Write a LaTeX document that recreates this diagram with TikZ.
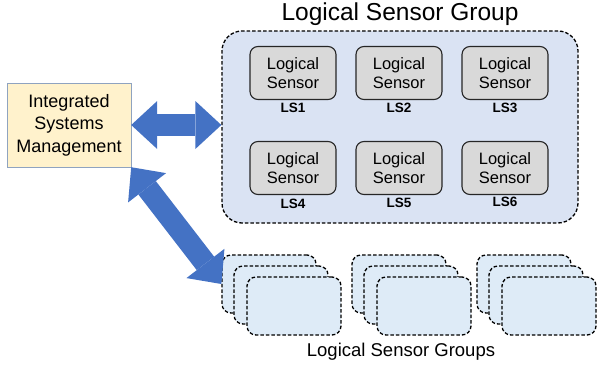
\documentclass[tikz,border=0pt]{standalone}
\usepackage{fontspec}
\setmainfont{Liberation Sans}
\usetikzlibrary{arrows.meta,positioning}
\definecolor{ismfill}{HTML}{FFF2CC}
\definecolor{ismdraw}{HTML}{8FA3C0}
\definecolor{grpfill}{HTML}{DAE3F3}
\definecolor{subfill}{HTML}{DEEBF7}
\definecolor{lsfill}{HTML}{D9D9D9}
\definecolor{linkblue}{HTML}{4472C4}

\begin{document}
\begin{tikzpicture}[x=1pt,y=-1pt,node distance=106pt,on grid,
	sensor/.style={draw=black!85,line width=1.1pt,fill=lsfill,rounded corners=8pt,
		minimum width=86pt,minimum height=53pt,align=center,font=\fontsize{16.5}{18.5}\selectfont},
	tag/.style={font=\fontsize{13.5}{15}\selectfont\bfseries},
	group/.style={draw,line width=1.3pt,dash pattern=on 3.5pt off 2pt,fill=grpfill,rounded corners=20pt},
	subgroup/.style={group,fill=subfill,rounded corners=9pt,minimum width=94pt,minimum height=58pt},
	link/.style={line width=22pt,linkblue,
		{Triangle[length=26pt,width=48pt,line width=0pt]}-{Triangle[length=26pt,width=48pt,line width=0pt]}}]
	   \useasboundingbox (0,0) rectangle (597,367);
	   \node[draw=ismdraw,fill=ismfill,minimum width=124pt,minimum height=84pt,align=center,
	         font=\fontsize{18}{22.5}\selectfont] (ism) at (69,125) {Integrated\\Systems\\Management};
	   \node[group,minimum width=356pt,minimum height=192pt] (grp) at (400,127) {};
	   \node[font=\fontsize{24.5}{27}\selectfont] (title) [above=113pt of grp] {Logical Sensor Group};
	   \node[sensor] (ls_1) at (293,73) {Logical\\Sensor};
	   \node[sensor] (ls_2) [right=of ls_1] {Logical\\Sensor};
	   \node[sensor] (ls_3) [right=of ls_2] {Logical\\Sensor};
	   \node[sensor] (ls_4) [below=95pt of ls_1] {Logical\\Sensor};
	   \node[sensor] (ls_5) [right=of ls_4] {Logical\\Sensor};
	   \node[sensor] (ls_6) [right=of ls_5] {Logical\\Sensor};
	   \node[tag] (tag_1) [below=35pt of ls_1] {LS1};
	   \node[tag] (tag_2) [below=35pt of ls_2] {LS2};
	   \node[tag] (tag_3) [below=35pt of ls_3] {LS3};
	   \node[tag] (tag_4) [below=36pt of ls_4] {LS4};
	   \node[tag] (tag_5) [below=35pt of ls_5] {LS5};
	   \node[tag] (tag_6) [below=34pt of ls_6] {LS6};
	   % stacks of further groups
	   \node[subgroup] (sg_1a) at (269,284) {};
	   \node[subgroup] (sg_1b) [below right=11pt and 12pt of sg_1a] {};
	   \node[subgroup] (sg_1c) [below right=11pt and 13pt of sg_1b] {};
	   \node[subgroup] (sg_2a) [right=130pt of sg_1a] {};
	   \node[subgroup] (sg_2b) [below right=11pt and 12pt of sg_2a] {};
	   \node[subgroup] (sg_2c) [below right=11pt and 13pt of sg_2b] {};
	   \node[subgroup] (sg_3a) [right=125pt of sg_2a] {};
	   \node[subgroup] (sg_3b) [below right=11pt and 12pt of sg_3a] {};
	   \node[subgroup] (sg_3c) [below right=11pt and 13pt of sg_3b] {};
	   \node[font=\fontsize{18.5}{20}\selectfont] (groups) at (401,352) {Logical Sensor Groups};
	   \draw[link] (ism.east) -- (ism.east -| grp.west);
	   \draw[link] (ism.south east) -- (sg_1a.west);
\end{tikzpicture}
\end{document}
